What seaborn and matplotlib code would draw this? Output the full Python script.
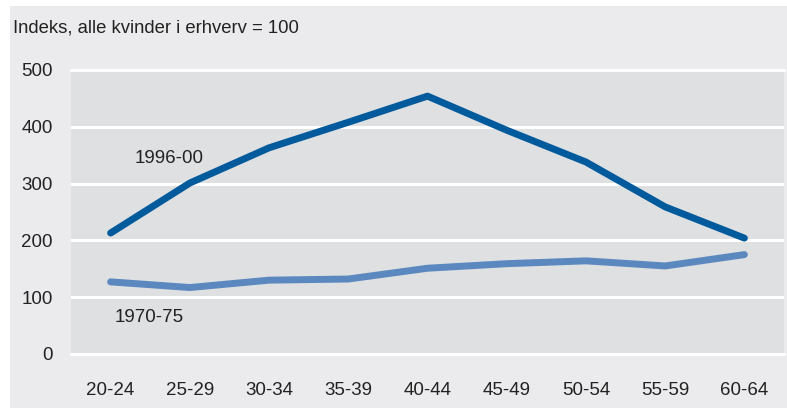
import matplotlib
matplotlib.use("Agg")
import matplotlib.pyplot as plt
import seaborn as sns
import pandas as pd
from matplotlib.patches import Rectangle

categories = ["20-24", "25-29", "30-34", "35-39", "40-44", "45-49", "50-54", "55-59", "60-64"]
series_1996 = [213, 301, 363, 408, 454, 394, 338, 259, 204]
series_1970 = [127, 117, 130, 132, 151, 159, 164, 155, 175]
y_ticks = [0, 100, 200, 300, 400, 500]
title = "Indeks, alle kvinder i erhverv = 100"

df = pd.DataFrame({
    "age": list(range(len(categories))) * 2,
    "value": series_1996 + series_1970,
    "series": ["1996-00"] * len(categories) + ["1970-75"] * len(categories),
})

sns.set_theme(style="white")
plt.rcParams["font.family"] = ["Liberation Sans", "DejaVu Sans"]

fig = plt.figure(figsize=(7.87, 4.08), dpi=100)
fig.patch.set_facecolor("white")
fig.patches.append(Rectangle((10 / 787, 0), 777 / 787, 402 / 408, transform=fig.transFigure,
                             facecolor="#ebebed", edgecolor="none", zorder=-10))
ax = fig.add_axes([71 / 787, 1 - 354 / 408, 713 / 787, 284 / 408])
ax.set_zorder(1)
ax.set_facecolor("#dfe0e2")

sns.lineplot(data=df, x="age", y="value", hue="series",
             palette={"1996-00": "#005a9c", "1970-75": "#5b88bf"},
             linewidth=5, legend=False, ax=ax, solid_capstyle="round")
for l in ax.lines:
    l.set_zorder(3)

ax.set_xlim(-0.5, len(categories) - 0.5)
ax.set_ylim(0, 500)
ax.set_yticks(y_ticks)
ax.set_yticklabels([str(v) for v in y_ticks])
ax.set_xticks(range(len(categories)))
ax.set_xticklabels(categories)
ax.yaxis.grid(True, color="white", linewidth=2.2, zorder=1)
ax.set_axisbelow(True)
ax.tick_params(axis="both", length=0, labelsize=13.5, colors="#222222")
ax.tick_params(axis="y", pad=13)
ax.tick_params(axis="x", pad=20)
for s in ax.spines.values():
    s.set_visible(False)
ax.set_xlabel("")
ax.set_ylabel("")
ax.axhline(0, color="white", linewidth=2.2, zorder=2, clip_on=False)
ax.axhline(500, color="white", linewidth=2.2, zorder=2, clip_on=False)

ax.text(0.3, 345, "1996-00", fontsize=13.5, color="#222222", ha="left", va="center")
ax.text(0.05, 65, "1970-75", fontsize=13.5, color="#222222", ha="left", va="center")

fig.text(13 / 787, 1 - 28 / 408, title, fontsize=13.3, color="#222222", ha="left", va="center")

fig.savefig("out.png", dpi=100, facecolor=fig.get_facecolor())
